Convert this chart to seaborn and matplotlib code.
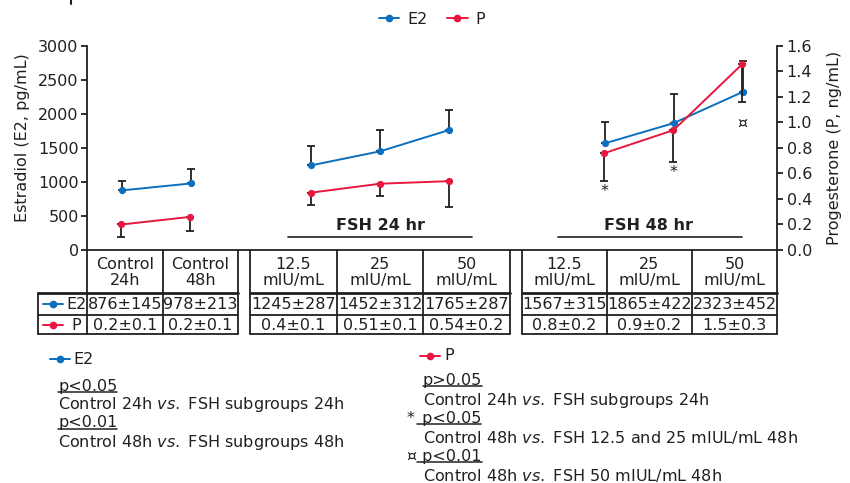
import matplotlib
matplotlib.use("Agg")
import matplotlib.pyplot as plt
import seaborn as sns
import pandas as pd
from matplotlib.lines import Line2D

# ---------------- data ----------------
groups = ["Control", "FSH 24 hr", "FSH 48 hr"]
group_of = ["Control", "Control",
            "FSH 24 hr", "FSH 24 hr", "FSH 24 hr",
            "FSH 48 hr", "FSH 48 hr", "FSH 48 hr"]
header_labels = ["Control\n24h", "Control\n48h",
                 "12.5\nmIU/mL", "25\nmIU/mL", "50\nmIU/mL",
                 "12.5\nmIU/mL", "25\nmIU/mL", "50\nmIU/mL"]
e2_mean = [876, 978, 1245, 1452, 1765, 1567, 1865, 2323]
e2_sd = [145, 213, 287, 312, 287, 315, 422, 452]
p_mean = [0.20, 0.26, 0.45, 0.52, 0.54, 0.76, 0.94, 1.46]
p_err = [0.10, 0.11, 0.10, 0.10, 0.20, 0.22, 0.25, 0.30]
e2_labels = ["876±145", "978±213", "1245±287", "1452±312", "1765±287",
             "1567±315", "1865±422", "2323±452"]
p_labels = ["0.2±0.1", "0.2±0.1", "0.4±0.1", "0.51±0.1", "0.54±0.2",
            "0.8±0.2", "0.9±0.2", "1.5±0.3"]
p_marks = ["", "", "", "", "", "*", "*", "¤"]
e2_ticks = [0, 500, 1000, 1500, 2000, 2500, 3000]
p_ticks = [0.0, 0.2, 0.4, 0.6, 0.8, 1.0, 1.2, 1.4, 1.6]

# ---------------- style ----------------
BLUE = "#0b6fbd"
RED = "#e8173f"
DARK = "#231f20"
FS = 11.5

sns.set_theme(style="white")
plt.rcParams["font.family"] = ["DejaVu Sans"]
plt.rcParams["text.color"] = DARK
plt.rcParams["axes.labelcolor"] = DARK
plt.rcParams["xtick.color"] = DARK
plt.rcParams["ytick.color"] = DARK
plt.rcParams["axes.edgecolor"] = DARK

W, H = 850, 483
fig = plt.figure(figsize=(W / 100, H / 100), dpi=100)


def fx(x):
    return x / W


def fy(y):
    return 1 - y / H


# axes: pixel box left 87, right 777, top 46, bottom 250
ax = fig.add_axes([fx(87), fy(250), fx(777) - fx(87), fy(46) - fy(250)])

# x positions (layout): groups start offsets, 1 unit per column
group_start = {"Control": 0.5, "FSH 24 hr": 3.25, "FSH 48 hr": 7.5}
xpos = []
seen = {}
for g in group_of:
    k = seen.get(g, 0)
    xpos.append(group_start[g] + k)
    seen[g] = k + 1

df = pd.DataFrame({"x": xpos, "group": group_of, "E2": e2_mean,
                   "E2_sd": e2_sd, "P": p_mean, "P_err": p_err})

ax.set_xlim(0, 10)
ax.set_ylim(0, 3000)
ax2 = ax.twinx()
ax2.set_ylim(0, 1.6)

MS = 5.2
# E2 error bars (upper only)
ax.errorbar(df["x"], df["E2"], yerr=[[0] * len(df), df["E2_sd"]], fmt="none",
            ecolor=DARK, elinewidth=1.3, capsize=2.6, capthick=1.3, zorder=2)
sns.lineplot(data=df, x="x", y="E2", units="group", estimator=None, ax=ax,
             color=BLUE, marker="o", markersize=MS, markeredgewidth=0,
             linewidth=1.4, zorder=3, legend=False)

# P error bars (lower only)
ax2.errorbar(df["x"], df["P"], yerr=[df["P_err"], [0] * len(df)], fmt="none",
             ecolor=DARK, elinewidth=1.3, capsize=2.6, capthick=1.3, zorder=2)
sns.lineplot(data=df, x="x", y="P", units="group", estimator=None, ax=ax2,
             color=RED, marker="o", markersize=MS, markeredgewidth=0,
             linewidth=1.4, zorder=3, legend=False)

# significance marks below P error bars
mark_off = {"*": 3, "¤": 14}
for xv, pv, pe, m in zip(df["x"], df["P"], df["P_err"], p_marks):
    if m:
        ax2.annotate(m, (xv, pv - pe), xytext=(0, -mark_off[m]),
                     textcoords="offset pixels", ha="center", va="top",
                     fontsize=FS, color=DARK)

# axes cosmetics
for a in (ax, ax2):
    a.set_xlabel("")
    a.set_xticks([])
    a.spines["top"].set_visible(False)
    for s in a.spines.values():
        s.set_linewidth(1.3)
        s.set_color(DARK)
ax.spines["right"].set_visible(False)
ax2.spines["left"].set_visible(False)
ax2.spines["bottom"].set_visible(False)
ax.set_yticks(e2_ticks)
ax.set_yticklabels([str(t) for t in e2_ticks], fontsize=FS)
ax2.set_yticks(p_ticks)
ax2.set_yticklabels([f"{t:.1f}" for t in p_ticks], fontsize=FS)
ax.tick_params(axis="y", direction="out", length=4, width=1.3, pad=2, left=True)
ax2.tick_params(axis="y", direction="out", length=4, width=1.3, pad=3, right=True)
ax.set_ylabel("Estradiol (E2, pg/mL)", fontsize=FS)
ax2.set_ylabel("Progesterone (P, ng/mL)", fontsize=FS)
ax.yaxis.set_label_coords(-0.082, 0.55)
ax2.yaxis.set_label_coords(1.073, 0.5)
ax.grid(False)
ax2.grid(False)

# group labels with rules
for name, (x0, x1, xc) in {"FSH 24 hr": (288, 472, 380),
                            "FSH 48 hr": (558, 742, 648)}.items():
    fig.text(fx(xc), fy(226), name, ha="center", va="center",
             fontsize=FS, fontweight="bold", color=DARK)
    fig.add_artist(Line2D([fx(x0), fx(x1)], [fy(237), fy(237)],
                          color=DARK, lw=1.2))

# top legend
handles = [Line2D([], [], color=BLUE, marker="o", markersize=4.5, lw=1.4),
           Line2D([], [], color=RED, marker="o", markersize=4.5, lw=1.4)]
fig.legend(handles, ["E2", "P"], loc="center",
           bbox_to_anchor=(fx(432), fy(19)), ncol=2, frameon=False,
           fontsize=FS, handlelength=1.3, handletextpad=0.5,
           columnspacing=1.2)

# ---------------- table ----------------
col_edges = [(87, 163), (163, 238), (250, 337), (337, 423), (423, 510),
             (522, 607), (607, 692), (692, 777)]
LW = 1.3


def hline(x0, x1, y, lw=LW):
    fig.add_artist(Line2D([fx(x0), fx(x1)], [fy(y), fy(y)], color=DARK, lw=lw))


def vline(x, y0, y1, lw=LW):
    fig.add_artist(Line2D([fx(x), fx(x)], [fy(y0), fy(y1)], color=DARK, lw=lw))


y_top, y_h, y_e, y_b = 250, 293, 315, 334
for xv in [87, 163, 238, 250, 337, 423, 510, 522, 607, 692, 777]:
    vline(xv, y_top, y_b)
vline(38, y_h, y_b)
for (x0, x1) in [(38, 238), (250, 510), (522, 777)]:
    hline(x0, x1, y_h, lw=2.0)
    hline(x0, x1, y_e)
    hline(x0, x1, y_b)

for (x0, x1), hdr, e2t, pt in zip(col_edges, header_labels, e2_labels, p_labels):
    xc = (x0 + x1) / 2
    fig.text(fx(xc), fy((y_top + y_h) / 2 + 1), hdr, ha="center", va="center",
             fontsize=FS, linespacing=1.1, color=DARK)
    fig.text(fx(xc), fy((y_h + y_e) / 2 + 0.5), e2t, ha="center", va="center",
             fontsize=FS, color=DARK)
    fig.text(fx(xc), fy((y_e + y_b) / 2 + 0.5), pt, ha="center", va="center",
             fontsize=FS, color=DARK)


def legend_glyph(x0, y, color):
    fig.add_artist(Line2D([fx(x0), fx(x0 + 10), fx(x0 + 20)], [fy(y)] * 3,
                          color=color, lw=1.4, marker="o", markersize=4.5,
                          markevery=[1]))


# row labels
legend_glyph(43, 304, BLUE)
fig.text(fx(76), fy(304.5), "E2", ha="center", va="center", fontsize=FS, color=DARK)
legend_glyph(43, 325, RED)
fig.text(fx(76), fy(325), "P", ha="center", va="center", fontsize=FS, color=DARK)

# ---------------- notes below ----------------
legend_glyph(50, 359, BLUE)
fig.text(fx(73), fy(359), "E2", ha="left", va="center", fontsize=FS, color=DARK)
legend_glyph(420, 356, RED)
fig.text(fx(444), fy(356), "P", ha="left", va="center", fontsize=FS, color=DARK)

underlined = []
notes = [
    (58, 386, "p<0.05", True),
    (58, 405, r"Control 24h $\mathit{vs.}$ FSH subgroups 24h", False),
    (58, 423, "p<0.01", True),
    (58, 443, r"Control 48h $\mathit{vs.}$ FSH subgroups 48h", False),
    (423, 380, "p>0.05", True),
    (423, 400, r"Control 24h $\mathit{vs.}$ FSH subgroups 24h", False),
    (417, 418, " p<0.05", True),
    (423, 437, r"Control 48h $\mathit{vs.}$ FSH 12.5 and 25 mIUL/mL 48h", False),
    (417, 456, " p<0.01", True),
    (423, 476, r"Control 48h $\mathit{vs.}$ FSH 50 mIUL/mL 48h", False),
]
for x, y, s, ul in notes:
    t = fig.text(fx(x), fy(y), s, ha="left", va="center", fontsize=FS, color=DARK)
    if ul:
        underlined.append((t, y))
fig.text(fx(411), fy(418), "*", ha="center", va="center", fontsize=FS, color=DARK)
fig.text(fx(411), fy(456), "¤", ha="center", va="center", fontsize=FS, color=DARK)

fig.canvas.draw()
renderer = fig.canvas.get_renderer()
for t, y in underlined:
    bb = t.get_window_extent(renderer)
    hline(bb.x0, bb.x1, y + 6, lw=1.1)

# small remnant mark at top-left
vline(71, 0, 4, lw=1.5)

fig.savefig("out.png", dpi=100)
